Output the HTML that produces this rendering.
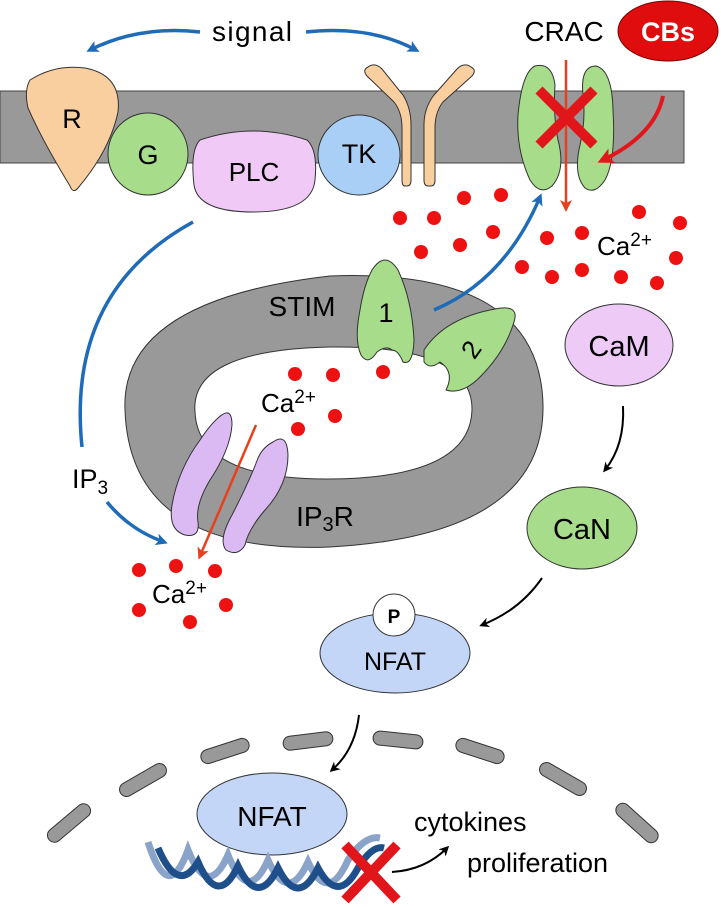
<!DOCTYPE html>
<html><head><meta charset="utf-8"><style>
html,body{margin:0;padding:0;background:#fff;}
svg{display:block;font-family:"Liberation Sans",Arial,sans-serif;}
</style></head><body>
<svg width="721" height="907" viewBox="0 0 721 907" xmlns="http://www.w3.org/2000/svg">
<defs>
<marker id="ab" markerWidth="12" markerHeight="12" refX="8" refY="6" orient="auto" markerUnits="userSpaceOnUse"><path d="M0,0 L12,6 L0,12 L3,6 Z" fill="#1f6bb8"/></marker>
<marker id="ak" markerWidth="10" markerHeight="10" refX="7" refY="5" orient="auto" markerUnits="userSpaceOnUse"><path d="M0,0 L10,5 L0,10 L3,5 Z" fill="#000"/></marker>
<marker id="ar" markerWidth="12" markerHeight="12" refX="8" refY="6" orient="auto" markerUnits="userSpaceOnUse"><path d="M0,0 L12,6 L0,12 L3,6 Z" fill="#e8401c"/></marker>
<marker id="ar2" markerWidth="16" markerHeight="16" refX="10" refY="8" orient="auto" markerUnits="userSpaceOnUse"><path d="M0,0 L16,8 L0,16 L4,8 Z" fill="#e3171b"/></marker>
</defs>

<path d="M200,32 Q140,25 90,50" fill="none" stroke="#1f6bb8" stroke-width="3.5" marker-end="url(#ab)"/>
<path d="M306,32 Q370,25 416,50" fill="none" stroke="#1f6bb8" stroke-width="3.5" marker-end="url(#ab)"/>
<text x="252" y="41" font-size="28" text-anchor="middle" textLength="80">signal</text>

<rect x="0" y="91" width="684" height="72" fill="#999" stroke="#444" stroke-width="1"/>

<path d="M30,80 Q55,64 85,68 Q122,75 118,112 Q110,150 78,188 Q73,194 70,186 Q42,140 28,108 Q24,90 30,80 Z" fill="#f9cf9f" stroke="#333" stroke-width="1"/>
<text x="72" y="128" font-size="27" text-anchor="middle">R</text>
<ellipse cx="148" cy="154" rx="40" ry="41" fill="#a6dc8a" stroke="#333" stroke-width="1"/>
<text x="148" y="164" font-size="27" text-anchor="middle">G</text>
<path d="M200,140 Q253,122 307,140 Q318,150 315,180 Q312,212 253,212 Q198,212 194,185 Q190,150 200,140 Z" fill="#f0c9f6" stroke="#333" stroke-width="1"/>
<text x="254" y="181" font-size="26" text-anchor="middle">PLC</text>
<ellipse cx="359" cy="155" rx="41" ry="40" fill="#a9cff6" stroke="#333" stroke-width="1"/>
<text x="359" y="163" font-size="27" text-anchor="middle">TK</text>
<path d="M367,76 Q362,70 368,67 Q375,62 382,69 L403,95 Q411,108 411,125 L411,180 Q411,186 407,186 L405,186 Q402,186 402,180 L402,128 Q402,112 394,102 L367,76 Z" fill="#f9cf9f" stroke="#333" stroke-width="1"/>
<path d="M472,76 Q477,70 471,67 Q464,62 457,69 L434,95 Q424,108 424,125 L424,180 Q424,186 428,186 L431,186 Q435,186 435,180 L435,128 Q435,112 443,102 L472,76 Z" fill="#f9cf9f" stroke="#333" stroke-width="1"/>

<path d="M535,66 Q552,62 555,85 Q553,115 558,140 Q566,170 552,186 Q540,196 530,180 Q516,150 518,115 Q522,72 535,66 Z" fill="#a6dc8a" stroke="#333" stroke-width="1"/>
<path d="M596,66 Q612,70 613,110 Q616,160 605,180 Q595,195 585,188 Q573,175 580,145 Q586,120 583,95 Q580,66 596,66 Z" fill="#a6dc8a" stroke="#333" stroke-width="1"/>
<line x1="566" y1="60" x2="566" y2="208" stroke="#e8401c" stroke-width="2.5" marker-end="url(#ar)"/>
<path d="M539,90 L594,145 M594,90 L539,145" stroke="#e0161b" stroke-width="10"/>
<path d="M663,96 Q655,135 603,160" fill="none" stroke="#e3171b" stroke-width="4" marker-end="url(#ar2)"/>
<text x="564" y="41" font-size="28" text-anchor="middle">CRAC</text>
<ellipse cx="668" cy="31" rx="50" ry="30" fill="#e00d0f" stroke="#7a0000" stroke-width="1"/>
<text x="668" y="41" font-size="27" font-weight="bold" fill="#fff" text-anchor="middle">CBs</text>

<g fill="#ee1111">
<circle cx="400" cy="218" r="7"/><circle cx="434" cy="218" r="7"/><circle cx="464" cy="198" r="7"/><circle cx="501" cy="195" r="7"/>
<circle cx="421" cy="252" r="7"/><circle cx="460" cy="245" r="7"/><circle cx="493" cy="232" r="7"/><circle cx="547" cy="238" r="7"/>
<circle cx="582" cy="233" r="7"/><circle cx="639" cy="212" r="7"/><circle cx="680" cy="223" r="7"/><circle cx="676" cy="258" r="7"/>
<circle cx="522" cy="267" r="7"/><circle cx="552" cy="277" r="7"/><circle cx="582" cy="270" r="7"/><circle cx="621" cy="277" r="7"/><circle cx="657" cy="283" r="7"/>
</g>
<text x="597" y="255" font-size="26">Ca<tspan font-size="19" dy="-9">2+</tspan></text>

<!-- blue curve PLC to IP3 -->
<path d="M193,222 C120,262 70,330 82,447" fill="none" stroke="#1f6bb8" stroke-width="3.5"/>
<path d="M107,502 Q130,530 164,542" fill="none" stroke="#1f6bb8" stroke-width="3.5" marker-end="url(#ab)"/>
<text x="72" y="488" font-size="27">IP<tspan font-size="19" dy="6">3</tspan></text>

<path fill-rule="evenodd" fill="#999" stroke="#333" stroke-width="1" d="M125,410 Q120,300 330,276 Q540,268 543,405 Q545,535 330,547 Q130,555 125,410 Z M195,412 Q190,350 330,347 Q473,345 472,410 Q470,478 330,479 Q198,480 195,412 Z"/>
<text x="302" y="316" font-size="28" text-anchor="middle">STIM</text>
<text x="325" y="526" font-size="28" text-anchor="middle">IP<tspan font-size="20" dy="5">3</tspan><tspan dy="-5">R</tspan></text>

<path d="M372,270 Q385,250 398,270 Q412,300 414,340 Q413,366 403,362 Q398,350 392,350 Q386,345 377,352 Q368,366 361,355 Q354,340 360,310 Q364,285 372,270 Z" fill="#a6dc8a" stroke="#333" stroke-width="1"/>
<text x="386" y="322" font-size="27" text-anchor="middle">1</text>
<path d="M424,350 Q445,318 495,309 Q520,304 514,322 Q505,352 480,377 Q462,395 446,390 Q455,372 440,362 Q430,370 424,362 Z" fill="#a6dc8a" stroke="#333" stroke-width="1"/>
<text x="472" y="358" font-size="26" text-anchor="middle" transform="rotate(-55 472 350)">2</text>
<path d="M434,310 Q505,280 540,197" fill="none" stroke="#1f6bb8" stroke-width="3.5" marker-end="url(#ab)"/>

<g fill="#ee1111">
<circle cx="295" cy="374" r="7"/><circle cx="333" cy="375" r="7"/><circle cx="383" cy="372" r="7"/>
<circle cx="335" cy="416" r="7"/><circle cx="298" cy="429" r="7"/>
</g>
<text x="261" y="412" font-size="26">Ca<tspan font-size="19" dy="-9">2+</tspan></text>

<path d="M218,418 Q232,405 232,425 Q230,450 210,480 Q195,505 198,522 Q200,538 185,535 Q168,530 172,505 Q178,470 200,440 Q210,425 218,418 Z" fill="#dbb9f3" stroke="#333" stroke-width="1"/>
<path d="M273,442 Q287,432 288,455 Q288,485 265,510 Q248,530 245,545 Q238,557 226,550 Q218,540 232,515 Q250,480 258,458 Q263,447 273,442 Z" fill="#dbb9f3" stroke="#333" stroke-width="1"/>
<line x1="256" y1="425" x2="200" y2="556" stroke="#e8401c" stroke-width="2.5" marker-end="url(#ar)"/>

<g fill="#ee1111">
<circle cx="139" cy="570" r="7"/><circle cx="176" cy="566" r="7"/><circle cx="215" cy="571" r="7"/>
<circle cx="139" cy="610" r="7"/><circle cx="226" cy="605" r="7"/><circle cx="190" cy="622" r="7"/>
</g>
<text x="152" y="603" font-size="26">Ca<tspan font-size="19" dy="-9">2+</tspan></text>

<ellipse cx="619" cy="345" rx="54" ry="41" fill="#edcbf6" stroke="#333" stroke-width="1"/>
<text x="619" y="356" font-size="29" text-anchor="middle">CaM</text>
<path d="M623,406 Q625,445 605,470" fill="none" stroke="#000" stroke-width="2" marker-end="url(#ak)"/>
<ellipse cx="582" cy="528" rx="55" ry="41" fill="#a6dc8a" stroke="#333" stroke-width="1"/>
<text x="582" y="539" font-size="29" text-anchor="middle">CaN</text>
<path d="M542,578 Q520,610 482,625" fill="none" stroke="#000" stroke-width="2" marker-end="url(#ak)"/>

<ellipse cx="395" cy="653" rx="75" ry="40" fill="#c3d6f7" stroke="#333" stroke-width="1"/>
<circle cx="394" cy="615" r="21" fill="#fff" stroke="#333" stroke-width="1"/>
<text x="394" y="623" font-size="19" font-weight="bold" text-anchor="middle">P</text>
<text x="395" y="670" font-size="25" text-anchor="middle">NFAT</text>
<path d="M359,715 Q355,750 332,770" fill="none" stroke="#000" stroke-width="2" marker-end="url(#ak)"/>

<g fill="#999" stroke="#333" stroke-width="1">
<rect x="-26" y="-7" width="52" height="14" rx="7" transform="translate(69,823) rotate(-40)"/>
<rect x="-26" y="-7" width="52" height="14" rx="7" transform="translate(143,780) rotate(-30)"/>
<rect x="-25" y="-7" width="50" height="14" rx="7" transform="translate(225,751) rotate(-18)"/>
<rect x="-25" y="-7" width="50" height="14" rx="7" transform="translate(308,741) rotate(-7)"/>
<rect x="-25" y="-7" width="50" height="14" rx="7" transform="translate(398,740) rotate(6)"/>
<rect x="-25" y="-7" width="50" height="14" rx="7" transform="translate(480,751) rotate(18)"/>
<rect x="-26" y="-7" width="52" height="14" rx="7" transform="translate(563,779) rotate(30)"/>
<rect x="-26" y="-7" width="52" height="14" rx="7" transform="translate(637,823) rotate(42)"/>
</g>

<ellipse cx="272" cy="814" rx="75" ry="41" fill="#c3d6f7" stroke="#333" stroke-width="1"/>
<text x="272" y="826" font-size="28" text-anchor="middle">NFAT</text>

<g fill="none" stroke-width="7">
<path d="M148,842 Q168,905 188,850 Q208,900 228,855 Q248,905 268,860 Q288,905 308,862 Q328,905 348,860 Q365,835 380,838" stroke="#8aa3c9"/>
<path d="M158,848 Q178,895 198,862 Q218,908 238,866 Q258,908 278,868 Q298,908 318,868 Q338,905 358,868 Q372,845 384,848" stroke="#1f4f8a"/>
</g>
<path d="M345,845 L397,900 M397,845 L345,900" stroke="#e0161b" stroke-width="10"/>
<path d="M392,872 Q425,870 447,848" fill="none" stroke="#000" stroke-width="2" marker-end="url(#ak)"/>
<text x="414" y="831" font-size="27">cytokines</text>
<text x="467" y="872" font-size="27">proliferation</text>
</svg>
</body></html>
